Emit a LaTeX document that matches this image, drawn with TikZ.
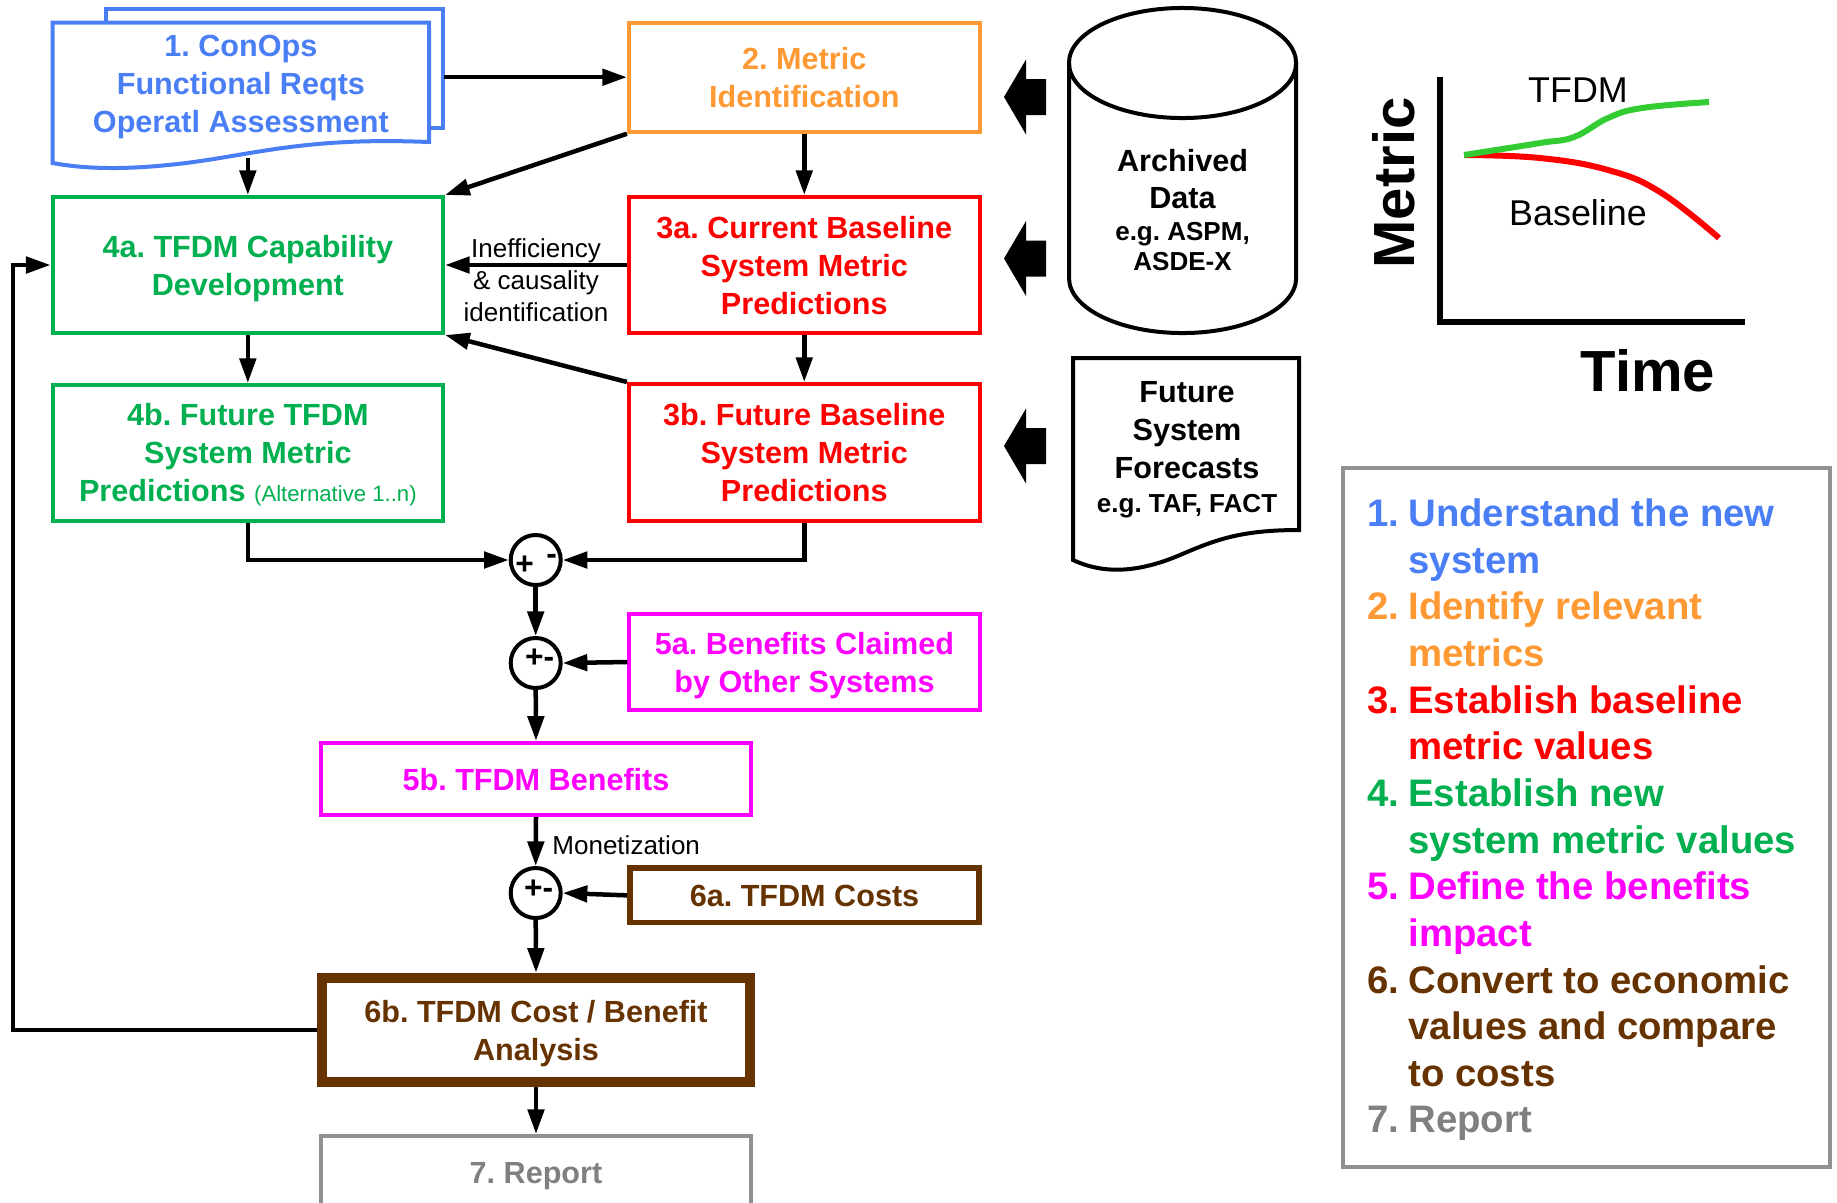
\documentclass[tikz,border=0pt]{standalone}
\usepackage{fontspec}
\setmainfont{Liberation Sans}
\usetikzlibrary{arrows.meta}
\frenchspacing

\definecolor{cblue}{RGB}{74,126,245}
\definecolor{corange}{RGB}{255,153,51}
\definecolor{cred}{RGB}{255,0,0}
\definecolor{cgreen}{RGB}{0,176,80}
\definecolor{cmag}{RGB}{255,0,255}
\definecolor{cbrown}{RGB}{102,51,0}
\definecolor{cgrey}{RGB}{128,128,128}
\definecolor{cframe}{RGB}{145,145,145}
\definecolor{cchart}{RGB}{51,204,51}

\newcommand\boxfont{\fontsize{8.7pt}{10.8pt}\selectfont\bfseries}
\newcommand\egfont{\fontsize{7.4pt}{9pt}\selectfont\bfseries}
\newcommand\notefont{\fontsize{7.4pt}{9.1pt}\selectfont}
\newcommand\altfont{\fontsize{6.3pt}{7.5pt}\selectfont\mdseries}
\newcommand\legfont{\fontsize{10.9pt}{13.26pt}\selectfont\bfseries}
\newcommand\chartfont{\fontsize{10.2pt}{12pt}\selectfont}
\newcommand\axisfont{\fontsize{16.5pt}{19pt}\selectfont\bfseries}
\newcommand\signfont{\fontsize{9pt}{9pt}\selectfont\bfseries}

\tikzset{
  boxtext/.style={align=center, inner sep=0pt, font=\boxfont, text depth=-1.3pt},
  stepbox/.style={boxtext, draw, line width=0.04cm, fill=white},
  arr/.style={line width=0.045cm, -{Triangle[length=7pt,width=4.6pt]}},
  sumnode/.style={circle, draw, line width=0.04cm, minimum size=0.5cm, inner sep=0pt, fill=white},
  blockarrow/.pic={\fill (0,0) -- (22,-37.5) -- (22,-18) -- (42,-18) -- (42,18) -- (22,18) -- (22,37.5) -- cycle;}
}

\begin{document}
\begin{tikzpicture}[x=0.01cm, y=-0.01cm]
\useasboundingbox (0,0) rectangle (1837,1202);
\clip (0,0) rectangle (1837,1202);

% ---------- step 1: stacked document ----------
\draw[cblue, line width=0.04cm] (106,22.7) -- (106,9.3) -- (443,9.3) -- (443,128) -- (429,128);
\draw[cblue, line width=0.04cm, fill=white]
  (52.7,163) -- (52.7,22.7) -- (429,22.7) -- (429,142)
  .. controls (330,138) and (280,148) .. (220,158)
  .. controls (160,168) and (100,172) .. (52.7,163) -- cycle;
\node[boxtext, text=cblue, minimum width=3.763cm, minimum height=1.19cm] (conops) at (240.9,84) {1. ConOps\\Functional Reqts\\Operatl Assessment};
\node[inner sep=0pt, minimum width=3.37cm, minimum height=1.187cm] (conopsback) at (274.5,68.6) {};
\coordinate (conopsfoot) at (247.85,158);

% ---------- step boxes ----------
\node[stepbox, draw=corange, text=corange, minimum width=3.505cm, minimum height=1.09cm] (metric) at (804.25,77.2) {2. Metric\\Identification};
\node[stepbox, draw=cred, text=cred, minimum width=3.505cm, minimum height=1.36cm] (cur) at (804.25,265) {3a. Current Baseline\\System Metric\\Predictions};
\node[stepbox, draw=cred, text=cred, minimum width=3.505cm, minimum height=1.367cm] (fut) at (804.25,452.35) {3b. Future Baseline\\System Metric\\Predictions};
\node[stepbox, draw=cgreen, text=cgreen, minimum width=3.903cm, minimum height=1.36cm] (cap) at (247.85,265) {4a. TFDM Capability\\Development};
\node[stepbox, draw=cgreen, text=cgreen, minimum width=3.903cm, minimum height=1.357cm] (alt) at (247.85,452.85) {4b. Future TFDM\\System Metric\\Predictions {\altfont (Alternative 1..n)}};
\node[stepbox, draw=cmag, text=cmag, minimum width=3.5cm, minimum height=0.96cm] (oth) at (804.5,662) {5a. Benefits Claimed\\by Other Systems};
\node[stepbox, draw=cmag, text=cmag, minimum width=4.3cm, minimum height=0.722cm] (ben) at (536,778.9) {5b. TFDM Benefits};
\node[stepbox, draw=cbrown, text=cbrown, line width=0.055cm, minimum width=3.49cm, minimum height=0.547cm] (cost) at (804.5,895.35) {6a. TFDM Costs};
\node[stepbox, draw=cbrown, text=cbrown, line width=0.1cm, minimum width=4.269cm, minimum height=1.046cm] (cba) at (536,1030) {6b. TFDM Cost / Benefit\\Analysis};
\node[stepbox, draw=cframe, text=cgrey, minimum width=4.3cm, minimum height=0.74cm] (rep) at (536,1173) {7. Report};

% ---------- summing junctions ----------
\node[sumnode, label={[font=\signfont, xshift=-0.11cm, yshift=-0.05cm]center:+}, label={[font=\signfont, xshift=0.16cm, yshift=0.01cm]center:-}] (s1) at (535.7,560) {};
\node[sumnode, label={[font=\signfont, xshift=0.04cm, yshift=0.05cm]center:+-}] (s2) at (535.7,663) {};
\node[sumnode, label={[font=\signfont, xshift=0.03cm, yshift=0.04cm]center:+-}] (s3) at (535.7,893) {};

% ---------- data sources ----------
\draw[line width=0.04cm] (1069,63) -- (1069,278) arc[start angle=180, end angle=360, x radius=1.135cm, y radius=0.55cm] -- (1296,63);
\draw[line width=0.04cm] (1182.5,63) ellipse[x radius=1.135cm, y radius=0.55cm];
\node[align=center, inner sep=0pt, font=\boxfont] (archive) at (1182.5,210) {Archived\\[-0.3pt]Data\\[-1.6pt]{\egfont e.g. ASPM,}\\[-2.2pt]{\egfont ASDE-X}};

\draw[line width=0.04cm]
  (1073,560) -- (1073,358) -- (1299,358) -- (1299,530)
  .. controls (1240,530) and (1215,540) .. (1180,555)
  .. controls (1140,572) and (1105,575) .. (1073,560) -- cycle;
\node[align=center, inner sep=0pt, font=\boxfont] (forecast) at (1187,450) {Future\\System\\Forecasts\\[-1.2pt]{\egfont e.g. TAF, FACT}};

\pic at (1004,97) {blockarrow};
\pic at (1004,258.5) {blockarrow};
\pic at (1004,446) {blockarrow};

% ---------- connectors ----------
\draw[arr] (metric.west -| conopsback.east) -- (metric.west);
\draw[arr] (conopsfoot) -- (cap.north);
\draw[arr] (metric.south west) -- (cap.north east);
\draw[arr] (metric.south) -- (cur.north);
\draw[arr] (cur.west) -- (cap.east);
\node[align=center, inner sep=0pt, font=\notefont] (ineff) at (536,280) {Inefficiency\\\& causality\\identification};
\draw[arr] (cur.south) -- (fut.north);
\draw[arr] (fut.north west) -- (cap.south east);
\draw[arr] (cap.south) -- (alt.north);
\draw[arr] (alt.south) |- (s1.west);
\draw[arr] (fut.south) |- (s1.east);
\draw[arr] (s1.south) -- (s2.north);
\draw[arr] (oth.west) -- (s2.east);
\draw[arr] (s2.south) -- (ben.north);
\draw[arr] (ben.south) -- (s3.north);
\node[anchor=west, inner sep=0pt, font=\notefont] (money) at (551.7,845) {Monetization};
\draw[arr] (cost.west) -- (s3.east);
\draw[arr] (s3.south) -- (cba.north);
\draw[arr] (cba.south) -- (rep.north);
\coordinate (fb) at (12.8,1030);
\draw[arr] (cba.west) -- (fb) |- (cap.west);

% ---------- metric over time sketch ----------
\draw[line width=0.055cm] (1440,77) -- (1440,322) -- (1745,322);
\draw[cred, line width=0.06cm] plot[smooth, tension=0.7] coordinates {(1464,155) (1540,158) (1608,170) (1660,192) (1719,238)};
\draw[cchart, line width=0.06cm] plot[smooth, tension=0.7] coordinates {(1464,155) (1540,143) (1574,137) (1608,118) (1642,108) (1709,102)};
\node[inner sep=0pt, font=\chartfont] (tfdmlab) at (1578,90) {TFDM};
\node[inner sep=0pt, font=\chartfont] (baselab) at (1578,213) {Baseline};
\node[inner sep=0pt, font=\axisfont] (timelab) at (1648,371) {Time};
\node[inner sep=0pt, font=\axisfont, rotate=90] (metriclab) at (1394,183) {Metric};

% ---------- step legend ----------
\node[draw=cframe, line width=0.04cm, minimum width=4.873cm, minimum height=6.987cm, inner sep=0pt] (legendbox) at (1586.35,817.35) {};
\node[anchor=base west, inner sep=0pt, font=\legfont] (legendtext) at (1366.7,526.7) {%
\begin{tabular}[t]{@{}l@{\hspace{0.09cm}}l@{}}
\color{cblue}1. & \color{cblue}Understand the new\\
 & \color{cblue}system\\
\color{corange}2. & \color{corange}Identify relevant\\
 & \color{corange}metrics\\
\color{cred}3. & \color{cred}Establish baseline\\
 & \color{cred}metric values\\
\color{cgreen}4. & \color{cgreen}Establish new\\
 & \color{cgreen}system metric values\\
\color{cmag}5. & \color{cmag}Define the benefits\\
 & \color{cmag}impact\\
\color{cbrown}6. & \color{cbrown}Convert to economic\\
 & \color{cbrown}values and compare\\
 & \color{cbrown}to costs\\
\color{cgrey}7. & \color{cgrey}Report
\end{tabular}};
\end{tikzpicture}
\end{document}
